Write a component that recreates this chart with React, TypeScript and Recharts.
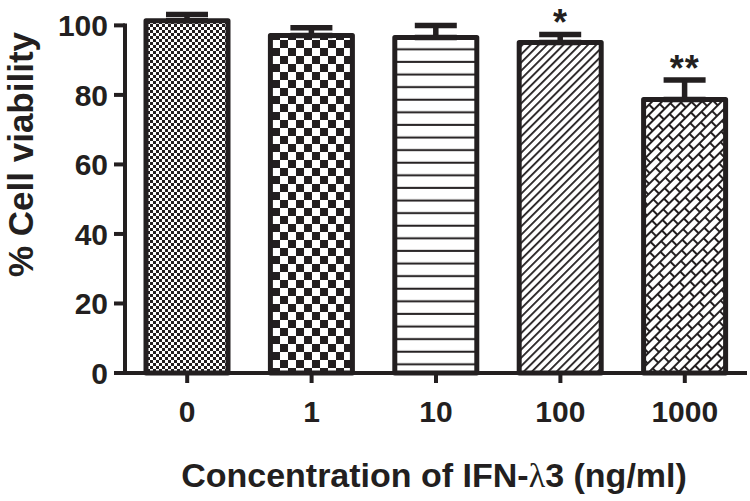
import React from 'react';
import { ComposedChart, Bar, Cell, XAxis, YAxis, ErrorBar, Scatter, ReferenceLine } from 'recharts';

const concentrations = ['0', '1', '10', '100', '1000'];
const viability = [101.3, 97.1, 96.5, 95.1, 78.7];
const sdUpper = [1.8, 2.2, 3.5, 2.3, 5.6];
const significance = ['', '', '', '*', '**'];
const yTicks = [0, 20, 40, 60, 80, 100];
const patternIds = ['pFineCheck', 'pCheck', 'pHLines', 'pDiag', 'pBrick'];

const data = concentrations.map((c, i) => ({
  conc: c,
  v: viability[i],
  err: [0, sdUpper[i]],
  sig: significance[i],
  sigTop: viability[i] + sdUpper[i],
}));

const INK = '#231f20';
const FONT = '"Liberation Sans", Arial, sans-serif';

const BarShape = (props: any) => {
  const { x, y, width, height, fill } = props;
  return (
    <rect
      x={x}
      y={y}
      width={width}
      height={height}
      fill={fill}
      stroke={INK}
      strokeWidth={5}
      strokeLinejoin="round"
    />
  );
};

const StarShape = (props: any) => {
  const { cx, cy, payload } = props;
  if (!payload || !payload.sig) return <g />;
  return (
    <text
      x={cx}
      y={cy + 1}
      textAnchor="middle"
      fontFamily={FONT}
      fontWeight="bold"
      fontSize={36}
      letterSpacing={1}
      fill={INK}
    >
      {payload.sig}
    </text>
  );
};

const XTitle = (props: any) => {
  const vb = props.viewBox || {};
  const cx = vb.x + vb.width / 2 - 2;
  const by = vb.y + 114;
  return (
    <text x={cx} y={by} textAnchor="middle" fontFamily={FONT} fontWeight="bold" fontSize={34} fill={INK}>
      <tspan>Concentration of IFN-</tspan>
      <tspan fontFamily='"Liberation Serif", serif' fontWeight="normal">λ</tspan>
      <tspan>3 (ng/ml)</tspan>
    </text>
  );
};

const YTitle = (props: any) => {
  const vb = props.viewBox || {};
  const x = vb.x + 33;
  const y = vb.y + vb.height / 2 - 36;
  return (
    <text
      x={x}
      y={y}
      transform={`rotate(-90 ${x} ${y})`}
      textAnchor="middle"
      fontFamily={FONT}
      fontWeight="bold"
      fontSize={35}
      fill={INK}
    >
      % Cell viability
    </text>
  );
};

export default function App() {
  return (
    <div style={{ position: 'absolute', left: 0, top: 0, background: '#fff' }}>
      <ComposedChart
        width={750}
        height={501}
        data={data}
        margin={{ top: 8, right: 3, left: 0, bottom: 0 }}
        barCategoryGap={0}
      >
        <defs>
          <pattern id="pFineCheck" width={6} height={6} patternUnits="userSpaceOnUse">
            <rect width={6} height={6} fill="#fff" />
            <rect x={0} y={0} width={3} height={3} fill={INK} />
            <rect x={3} y={3} width={3} height={3} fill={INK} />
          </pattern>
          <pattern id="pCheck" width={16} height={16} patternUnits="userSpaceOnUse">
            <rect width={16} height={16} fill="#fff" />
            <rect x={0} y={0} width={8} height={8} fill={INK} />
            <rect x={8} y={8} width={8} height={8} fill={INK} />
          </pattern>
          <pattern id="pHLines" width={10} height={12.6} patternUnits="userSpaceOnUse">
            <rect width={10} height={12.6} fill="#fff" />
            <rect x={0} y={10.5} width={10} height={2} fill={INK} />
          </pattern>
          <pattern id="pDiag" width={5.8} height={10} patternUnits="userSpaceOnUse" patternTransform="rotate(45)">
            <rect width={5.8} height={10} fill="#fff" />
            <rect x={0} y={0} width={1.8} height={10} fill={INK} />
          </pattern>
          <pattern id="pBrick" width={16} height={14} patternUnits="userSpaceOnUse" patternTransform="rotate(-45)">
            <rect width={16} height={14} fill="#fff" />
            <rect x={0} y={0} width={16} height={2} fill={INK} />
            <rect x={0} y={7} width={16} height={2} fill={INK} />
            <rect x={0} y={0} width={2} height={7} fill={INK} />
            <rect x={8} y={7} width={2} height={7} fill={INK} />
          </pattern>
        </defs>
        <XAxis
          dataKey="conc"
          height={128}
          tickSize={10}
          tickMargin={18}
          axisLine={{ stroke: INK, strokeWidth: 4 }}
          tickLine={{ stroke: INK, strokeWidth: 4 }}
          tick={{ fontFamily: FONT, fontWeight: 'bold', fontSize: 30, fill: INK }}
          label={<XTitle />}
        />
        <YAxis
          type="number"
          width={125}
          domain={[0, 105]}
          ticks={yTicks}
          interval={0}
          tickSize={11}
          tickMargin={6}
          axisLine={false}
          tickLine={{ stroke: INK, strokeWidth: 4 }}
          tick={{ fontFamily: FONT, fontWeight: 'bold', fontSize: 30, fill: INK }}
          label={<YTitle />}
        />
        <ReferenceLine
          segment={[{ x: concentrations[0], y: 0 }, { x: concentrations[0], y: 100 }]}
          position="start"
          stroke={INK}
          strokeWidth={4}
          strokeLinecap="square"
          ifOverflow="visible"
        />
        <Bar dataKey="v" barSize={82} shape={<BarShape />} isAnimationActive={false}>
          {data.map((d, i) => (
            <Cell key={d.conc} fill={`url(#${patternIds[i]})`} />
          ))}
          <ErrorBar dataKey="err" direction="y" width={21} strokeWidth={5.5} stroke={INK} />
        </Bar>
        <Scatter dataKey="sigTop" shape={<StarShape />} isAnimationActive={false} />
      </ComposedChart>
    </div>
  );
}
